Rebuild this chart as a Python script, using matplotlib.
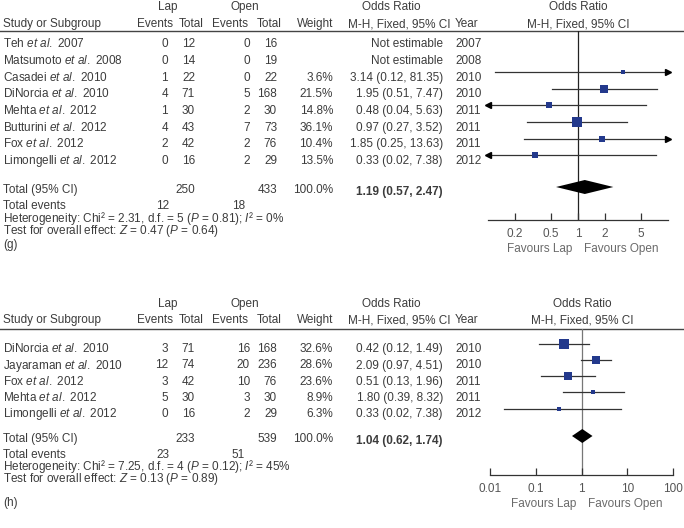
import numpy as np
import matplotlib.pyplot as plt

plt.rcParams['font.family'] = ['Liberation Sans', 'DejaVu Sans']
plt.rcParams['mathtext.fontset'] = 'custom'
plt.rcParams['mathtext.rm'] = 'Liberation Sans'
plt.rcParams['mathtext.it'] = 'Liberation Sans:italic'
plt.rcParams['mathtext.bf'] = 'Liberation Sans:bold'

nan = np.nan

# ---- panel (g) data ----
g_names = ["Teh", "Matsumoto", "Casadei", "DiNorcia", "Mehta", "Butturini", "Fox", "Limongelli"]
g_pub = [2007, 2008, 2010, 2010, 2012, 2012, 2012, 2012]
g_year = [2007, 2008, 2010, 2010, 2011, 2011, 2011, 2012]
g_lap_ev = [0, 0, 1, 4, 1, 4, 2, 0]
g_lap_n = [12, 14, 22, 71, 30, 43, 42, 16]
g_open_ev = [0, 0, 0, 5, 2, 7, 2, 2]
g_open_n = [16, 19, 22, 168, 30, 73, 76, 29]
g_weight = [nan, nan, 3.6, 21.5, 14.8, 36.1, 10.4, 13.5]
g_or = [nan, nan, 3.14, 1.95, 0.48, 0.97, 1.85, 0.33]
g_lo = [nan, nan, 0.12, 0.51, 0.04, 0.27, 0.25, 0.02]
g_hi = [nan, nan, 81.35, 7.47, 5.63, 3.52, 13.63, 7.38]
g_total = [250, 433]
g_events = [12, 18]
g_pooled = [1.19, 0.57, 2.47]
g_het = "Heterogeneity: Chi² = 2.31, d.f. = 5 ($P$ = 0.81); $I$² = 0%"
g_test = "Test for overall effect: $Z$ = 0.47 ($P$ = 0.64)"
g_ticks = [0.2, 0.5, 1, 2, 5]

# ---- panel (h) data ----
h_names = ["DiNorcia", "Jayaraman", "Fox", "Mehta", "Limongelli"]
h_pub = [2010, 2010, 2012, 2012, 2012]
h_year = [2010, 2010, 2011, 2011, 2012]
h_lap_ev = [3, 12, 3, 5, 0]
h_lap_n = [71, 74, 42, 30, 16]
h_open_ev = [16, 20, 10, 3, 2]
h_open_n = [168, 236, 76, 30, 29]
h_weight = [32.6, 28.6, 23.6, 8.9, 6.3]
h_or = [0.42, 2.09, 0.51, 1.80, 0.33]
h_lo = [0.12, 0.97, 0.13, 0.39, 0.02]
h_hi = [1.49, 4.51, 1.96, 8.32, 7.38]
h_total = [233, 539]
h_events = [23, 51]
h_pooled = [1.04, 0.62, 1.74]
h_het = "Heterogeneity: Chi² = 7.25, d.f. = 4 ($P$ = 0.12); $I$² = 45%"
h_test = "Test for overall effect: $Z$ = 0.13 ($P$ = 0.89)"
h_ticks = [0.01, 0.1, 1, 10, 100]

W, H = 684, 528
fig = plt.figure(figsize=(W / 100, H / 100), dpi=100)
base = fig.add_axes([0, 0, 1, 1])
base.set_xlim(0, W)
base.set_ylim(H, 0)
base.axis('off')

TXT = '#3c3c3c'
FS = 8.5
BLUE = '#23398c'
HALF_CAP = 4.2  # px, baseline sits this far below the row centre


def t(x, y, s, ha='left', bold=False, color=TXT, size=FS):
    base.text(x, y + HALF_CAP, s, ha=ha, va='baseline', fontsize=size, color=color,
              fontweight='bold' if bold else 'normal')


def panel(names, pub, year, lap_ev, lap_n, open_ev, open_n, weight, orr, lo, hi,
          total, events, pooled, het, test, ticks, label, L):
    # headers
    t(168, L['h1'], "Lap", ha='center')
    t(245, L['h1'], "Open", ha='center')
    t(391, L['h1'], "Odds Ratio", ha='center')
    t(L['fc'], L['h1'], "Odds Ratio", ha='center')
    t(3, L['h2'], "Study or Subgroup")
    t(155, L['h2'], "Events", ha='center')
    t(191, L['h2'], "Total", ha='center')
    t(230, L['h2'], "Events", ha='center')
    t(269, L['h2'], "Total", ha='center')
    t(333, L['h2'], "Weight", ha='right')
    t(450, L['h2'], "M-H, Fixed, 95% CI", ha='right')
    t(455, L['h2'], "Year")
    t(L['fc'], L['h2'], "M-H, Fixed, 95% CI", ha='center')
    base.plot([0, W], [L['line'], L['line']], color='#444444', lw=1.0)

    rows = [L['r0'] + i * L['dy'] for i in range(len(names))]
    for i, y in enumerate(rows):
        t(3, y, names[i] + r" $\mathit{et}$ $\mathit{al.}$ " + str(pub[i]))
        t(168, y, str(lap_ev[i]), ha='right')
        t(195, y, str(lap_n[i]), ha='right')
        t(250, y, str(open_ev[i]), ha='right')
        t(277, y, str(open_n[i]), ha='right')
        if np.isnan(orr[i]):
            t(443, y, "Not estimable", ha='right')
        else:
            t(333, y, f"{weight[i]:.1f}%", ha='right')
            t(443, y, f"{orr[i]:.2f} ({lo[i]:.2f}, {hi[i]:.2f})", ha='right')
        t(455, y, str(year[i]))

    ty = L['tot']
    t(3, ty, "Total (95% CI)")
    t(195, ty, str(total[0]), ha='right')
    t(277, ty, str(total[1]), ha='right')
    t(333, ty, "100.0%", ha='right')
    t(443, ty + 2, f"{pooled[0]:.2f} ({pooled[1]:.2f}, {pooled[2]:.2f})", ha='right', bold=True)
    t(3, L['ev'], "Total events")
    t(169, L['ev'], str(events[0]), ha='right')
    t(245, L['ev'], str(events[1]), ha='right')
    t(3, L['het'], het)
    t(3, L['test'], test)
    t(3, L['lab'], label)

    # forest plot axes, y in pixel units of the figure
    x0, x1 = L['fx']
    ax = fig.add_axes([x0 / W, 1 - L['axis'] / H, (x1 - x0) / W, (L['axis'] - L['line']) / H])
    ax.set_xscale('log')
    ax.set_xlim(L['xlim'])
    ax.set_ylim(L['axis'], L['line'])
    ax.patch.set_visible(False)
    for s in ['top', 'left', 'right']:
        ax.spines[s].set_visible(False)
    ax.spines['bottom'].set_color('#333333')
    ax.spines['bottom'].set_linewidth(0.9)
    ax.set_yticks([])
    ax.set_xticks(ticks)
    ax.set_xticklabels([f"{v:g}" for v in ticks])
    ax.minorticks_off()
    ax.tick_params(axis='x', direction='in', length=5, width=0.9, pad=5.5,
                   labelsize=FS, labelcolor='#555555', color='#333333')
    ax.axvline(1, color=L['vc'], lw=0.9, zorder=1)

    xmin, xmax = L['xlim']
    off = 4.5
    for i, y in enumerate(rows):
        if np.isnan(orr[i]):
            continue
        yy = y - off
        a, b = max(lo[i], xmin), min(hi[i], xmax)
        ax.plot([a, b], [yy, yy], color='#333333', lw=0.9, zorder=2, clip_on=False)
        if lo[i] < xmin:
            ax.plot(xmin, yy, marker='<', ms=4.5, color='k', clip_on=False, zorder=3)
        if hi[i] > xmax:
            ax.plot(xmax, yy, marker='>', ms=4.5, color='k', clip_on=False, zorder=3)
        side = 1.65 * np.sqrt(weight[i]) * 0.72
        ax.plot(orr[i], yy, marker='s', ms=side, color=BLUE, mew=0, zorder=4, clip_on=False)

    dy = ty - 2
    est, a, b = pooled
    ax.fill([a, est, b, est], [dy, dy - 7, dy, dy + 7], color='black', zorder=5, lw=0)

    t(L['fc'] - 6, L['fav'], "Favours Lap", ha='right', color='#6a6a6a')
    t(L['fc'] + 6, L['fav'], "Favours Open", ha='left', color='#6a6a6a')


panel(g_names, g_pub, g_year, g_lap_ev, g_lap_n, g_open_ev, g_open_n, g_weight,
      g_or, g_lo, g_hi, g_total, g_events, g_pooled, g_het, g_test, g_ticks, "(g)",
      dict(h1=6, h2=23, line=31, r0=43, dy=16.7, tot=189, ev=205, het=218, test=230,
           lab=244, fx=(488, 668), xlim=(0.1, 10), axis=220, fav=248, fc=578, vc='#222222'))

panel(h_names, h_pub, h_year, h_lap_ev, h_lap_n, h_open_ev, h_open_n, h_weight,
      h_or, h_lo, h_hi, h_total, h_events, h_pooled, h_het, h_test, h_ticks, "(h)",
      dict(h1=303, h2=319, line=329, r0=348, dy=16.3, tot=438, ev=454, het=466, test=478,
           lab=502, fx=(490, 673), xlim=(0.01, 100), axis=475, fav=503, fc=582, vc='#777777'))

fig.savefig('out.png', dpi=100)
